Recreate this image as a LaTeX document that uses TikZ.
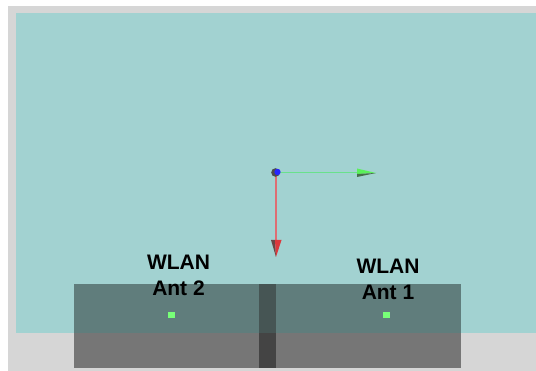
\documentclass[tikz,border=0pt]{standalone}
\usepackage{fontspec}
\setmainfont{Liberation Sans}
\definecolor{bggray}{RGB}{214,214,214}
\definecolor{teal1}{RGB}{162,210,209}
\definecolor{boxteal}{RGB}{96,125,124}
\definecolor{boxgray}{RGB}{118,118,118}
\definecolor{barteal}{RGB}{70,85,84}
\definecolor{bargray}{RGB}{68,68,68}
\definecolor{antgreen}{RGB}{120,255,120}
\definecolor{axgreen}{RGB}{105,225,140}
\definecolor{axred}{RGB}{222,110,115}
\definecolor{tipred}{RGB}{220,55,60}
\definecolor{tipdarkred}{RGB}{105,70,70}
\definecolor{tipgreen}{RGB}{90,240,90}
\definecolor{tipdarkgreen}{RGB}{70,110,75}
\tikzset{
  lab/.style={font=\bfseries\fontsize{21}{26}\selectfont,align=center,text=black,inner sep=0pt},
  ant/.style={draw=none,fill=antgreen,minimum width=6.5pt,minimum height=5.5pt,inner sep=0pt},
}
\begin{document}
\begin{tikzpicture}[x=1pt,y=-1pt]
\useasboundingbox (0,0) rectangle (536,371);
\fill[white] (0,0) rectangle (536,371);
\fill[bggray] (8,6) rectangle (536,371);
\fill[teal1] (16,13) rectangle (536,333);
% device box
\fill[boxteal] (74,284) rectangle (461,333);
\fill[boxgray] (74,333) rectangle (461,368);
\fill[barteal] (259,284) rectangle (276,333);
\fill[bargray] (259,333) rectangle (276,368);
% axes
\coordinate (o) at (276,172.5);
\coordinate (gx) at (357,172.5);
\coordinate (rx) at (276,240);
\draw[axgreen,line width=1.5pt] (o) -- (gx);
\draw[axred,line width=1.8pt] (o) -- (rx);
\fill[tipgreen] (357,168.5) -- (357,174) -- (376,173) -- cycle;
\fill[tipdarkgreen] (357,174) -- (357,177) -- (376,173) -- cycle;
\fill[tipdarkred] (271,240) -- (275,240) -- (276,257) -- cycle;
\fill[tipred] (275,240) -- (281.5,240) -- (276,257) -- cycle;
\fill[black!70] (275.5,172.5) circle (4.3pt);
\fill[blue!85!white] (277.5,172) circle (3.2pt);
% antennas
\node[ant] (a2) at (171.5,315) {};
\node[ant] (a1) at (386.7,315) {};
\node[lab] (l2) at (178.5,275) {WLAN\\Ant 2};
\node[lab] (l1) at (388,279.5) {WLAN\\Ant 1};
\end{tikzpicture}
\end{document}
